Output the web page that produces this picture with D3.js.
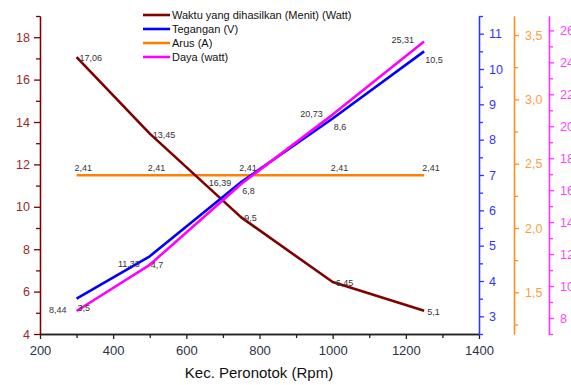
<!DOCTYPE html>
<meta charset="utf-8">
<style>
  body { margin: 0; background: #fff; }
  svg { font-family: "Liberation Sans", Arial, sans-serif; }
</style>
<script src="https://d3js.org/d3.v7.min.js"></script>
<svg width="571" height="385"></svg>
<script>
// data
const rpm = [300, 500, 750, 1000, 1250];
const waktu = [17.06, 13.45, 9.5, 6.45, 5.1];
const tegangan = [3.5, 4.7, 6.8, 8.6, 10.5];
const arus = [2.41, 2.41, 2.41, 2.41, 2.41];
const daya = [8.44, 11.33, 16.39, 20.73, 25.31];

const xTicks = [200, 400, 600, 800, 1000, 1200, 1400];
const leftTicks = [4, 6, 8, 10, 12, 14, 16, 18];
const blueTicks = [3, 4, 5, 6, 7, 8, 9, 10, 11];
const orangeTicks = [1.5, 2.0, 2.5, 3.0, 3.5];
const pinkTicks = [8, 10, 12, 14, 16, 18, 20, 22, 24, 26];
const legendNames = ['Waktu yang dihasilkan (Menit) (Watt)', 'Tegangan (V)', 'Arus (A)', 'Daya (watt)'];

const svg = d3.select('svg');
const pTop = 16, pBottom = 334, pLeft = 40, pRight = 479;

const x = d3.scaleLinear().domain([200, 1400]).range([pLeft, pRight]);
const yL = d3.scaleLinear().domain([4, 19]).range([pBottom, pTop]);
const yB = d3.scaleLinear().domain([2.5, 11.5]).range([pBottom, pTop]);
const yO = d3.scaleLinear().domain([1.176, 3.648]).range([pBottom, pTop]);
const yP = d3.scaleLinear().domain([7, 26.9]).range([pBottom, pTop]);

const loc = d3.formatLocale({decimal: ',', thousands: '.', grouping: [3], currency: ['', '']});
const comma = v => String(v).replace('.', ',');

const cBrown = '#800000', cBlue = '#0000ff', cOrange = '#ff8000', cPink = '#ff00ff';

function styleAxis(g, col, txt, fs) {
  g.selectAll('path').attr('stroke', col).attr('stroke-width', 1.3);
  g.selectAll('line').attr('stroke', col).attr('stroke-width', 1.3);
  g.selectAll('text').attr('fill', txt).attr('font-size', fs).attr('font-family', null);
}

// minor ticks
function minor(axisFn, scale, vals, pos) {
  const g = svg.append('g').attr('transform', pos)
    .call(axisFn(scale).tickValues(vals).tickSize(4).tickSizeOuter(0).tickFormat(''));
  return g;
}

// bottom axis
let gx = svg.append('g').attr('transform', `translate(0,${pBottom})`)
  .call(d3.axisBottom(x).tickValues(xTicks).tickSize(5).tickSizeOuter(0).tickPadding(7)
    .tickFormat(d3.format('d')));
styleAxis(gx, '#222', '#2a3346', 13);
let gxm = minor(d3.axisBottom, x, [300, 500, 700, 900, 1100, 1300], `translate(0,${pBottom})`);
styleAxis(gxm, '#222', '#222', 10);

// left axis
let gl = svg.append('g').attr('transform', `translate(${pLeft},0)`)
  .call(d3.axisLeft(yL).tickValues(leftTicks).tickSize(6).tickSizeOuter(0).tickPadding(4));
styleAxis(gl, cBrown, '#9a2a2a', 12.5);
let glm = minor(d3.axisLeft, yL, [5, 7, 9, 11, 13, 15, 17, 19], `translate(${pLeft},0)`);
styleAxis(glm, cBrown, cBrown, 10);

// blue axis
let gb = svg.append('g').attr('transform', `translate(${pRight},0)`)
  .call(d3.axisRight(yB).tickValues(blueTicks).tickSize(5).tickSizeOuter(0).tickPadding(5));
styleAxis(gb, '#3333ff', '#3333ff', 12.5);
let gbm = minor(d3.axisRight, yB, [2.5, 3.5, 4.5, 5.5, 6.5, 7.5, 8.5, 9.5, 10.5, 11.5], `translate(${pRight},0)`);
styleAxis(gbm, '#3333ff', '#3333ff', 10);

// orange axis
const xo = 514;
let go = svg.append('g').attr('transform', `translate(${xo},0)`)
  .call(d3.axisRight(yO).tickValues(orangeTicks).tickSize(5).tickSizeOuter(0).tickPadding(6)
    .tickFormat(loc.format('.1f')));
styleAxis(go, '#ff9020', '#ffa040', 12.5);
let gom = minor(d3.axisRight, yO, [1.25, 1.75, 2.25, 2.75, 3.25], `translate(${xo},0)`);
styleAxis(gom, '#ff9020', '#ff9020', 10);

// magenta axis
const xp = 549;
let gp = svg.append('g').attr('transform', `translate(${xp},0)`)
  .call(d3.axisRight(yP).tickValues(pinkTicks).tickSize(5).tickSizeOuter(0).tickPadding(6));
styleAxis(gp, '#ff33ff', '#ff44ff', 12.5);
let gpm = minor(d3.axisRight, yP, [7, 9, 11, 13, 15, 17, 19, 21, 23, 25], `translate(${xp},0)`);
styleAxis(gpm, '#ff33ff', '#ff33ff', 10);

// axis title
svg.append('text').attr('x', 259).attr('y', 378).attr('text-anchor', 'middle')
  .attr('font-size', 15).attr('fill', '#111').text('Kec. Peronotok (Rpm)');

// series
const series = [
  {vals: arus, y: yO, col: cOrange, dx: -2, dy: -4, anchor: 'start'},
  {vals: waktu, y: yL, col: cBrown, dx: 3, dy: 4, anchor: 'start'},
  {vals: tegangan, y: yB, col: cBlue, dx: 1, dy: 12, anchor: 'start'},
  {vals: daya, y: yP, col: cPink, dx: -10, dy: 2, anchor: 'end'}
];

series.forEach(s => {
  const line = d3.line().x((d, i) => x(rpm[i])).y(d => s.y(d));
  svg.append('path').datum(s.vals).attr('d', line)
    .attr('fill', 'none').attr('stroke', s.col).attr('stroke-width', 2.6)
    .attr('stroke-linejoin', 'round');
});

series.forEach(s => {
  svg.append('g').selectAll('text').data(s.vals).enter().append('text')
    .attr('x', (d, i) => x(rpm[i]) + s.dx)
    .attr('y', d => s.y(d) + s.dy)
    .attr('text-anchor', s.anchor)
    .attr('font-size', 9).attr('fill', '#333')
    .text(d => comma(d));
});

// legend
const legCols = [cBrown, cBlue, cOrange, cPink];
const leg = svg.append('g');
legendNames.forEach((n, i) => {
  const yy = 15 + i * 14;
  leg.append('line').attr('x1', 143).attr('x2', 170).attr('y1', yy).attr('y2', yy)
    .attr('stroke', legCols[i]).attr('stroke-width', 2.6);
  leg.append('text').attr('x', 172).attr('y', yy + 4).attr('font-size', 11)
    .attr('fill', '#111').text(n);
});
</script>
